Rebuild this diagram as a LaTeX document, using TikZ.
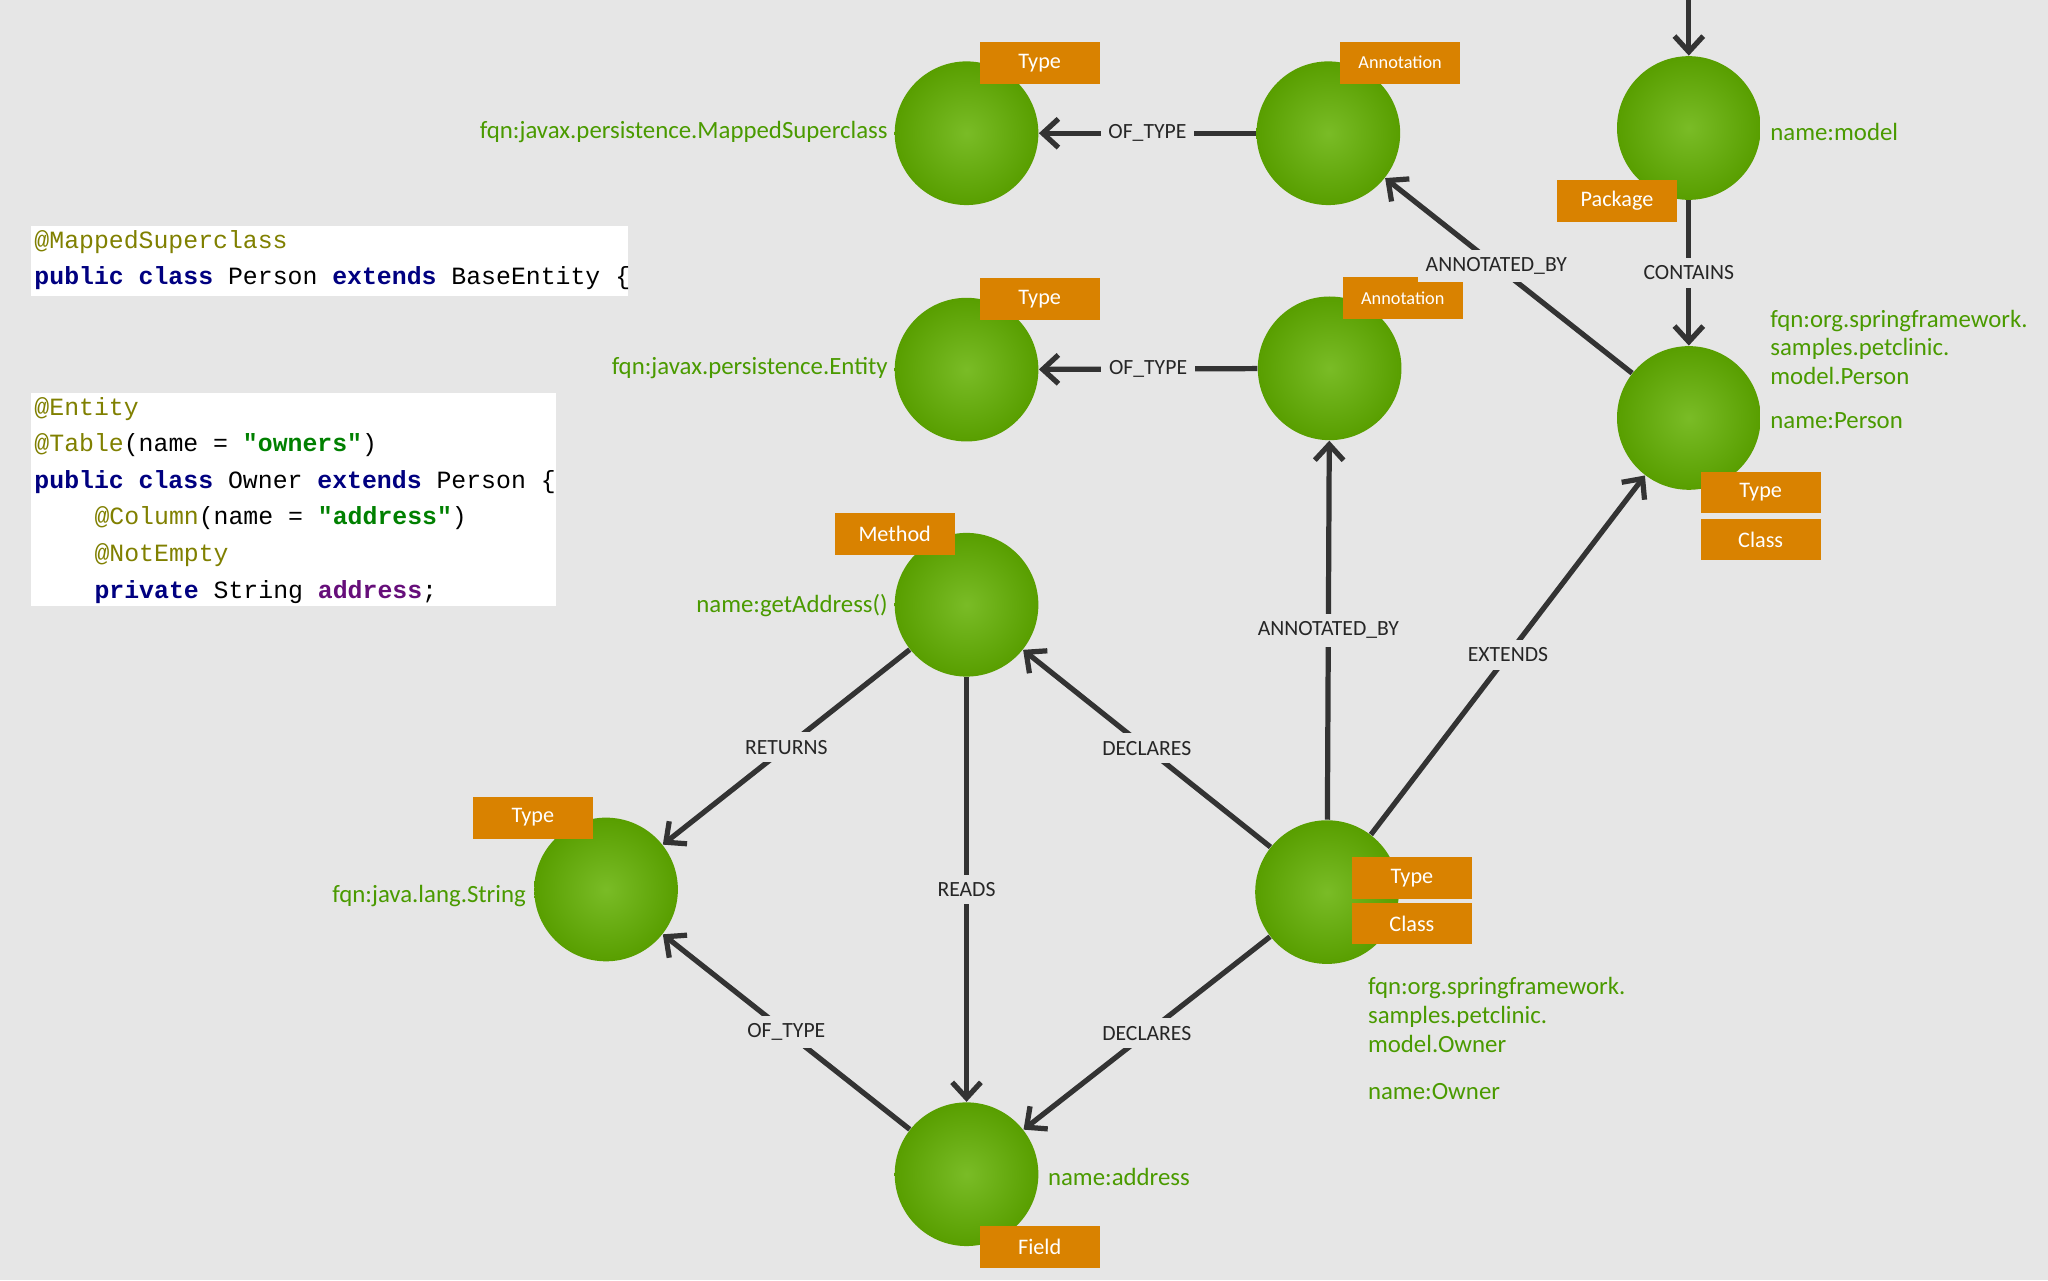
\documentclass[tikz,border=0pt]{standalone}
\usepackage{fontspec}
\setmainfont{Carlito}
\newfontfamily\codefont{Liberation Mono}
\usetikzlibrary{arrows.meta}
\definecolor{bg}{HTML}{E6E6E6}
\definecolor{lblg}{HTML}{4A9A00}
\definecolor{nodeg}{HTML}{62B000}
\definecolor{tagc}{HTML}{D98200}
\definecolor{edgec}{HTML}{333333}
\definecolor{annc}{HTML}{808000}
\definecolor{kwc}{HTML}{000080}
\definecolor{strc}{HTML}{008000}
\definecolor{fldc}{HTML}{660E7A}
\begin{document}
\begin{tikzpicture}[x=0.5pt,y=-0.5pt,
  gn/.style={circle,minimum size=55pt,inner sep=0,draw=none,inner color=nodeg!85!white,outer color=nodeg!90!black},
  tag/.style={fill=tagc,text=white,minimum width=46pt,minimum height=16pt,inner sep=0,font=\fontsize{8.5}{10}\selectfont},
  tags/.style={tag,font=\fontsize{7}{9}\selectfont},
  gl/.style={text=lblg,font=\fontsize{9.5}{11}\selectfont,inner sep=0},
  arr/.style={draw=edgec,line width=2pt,-{Straight Barb[length=6pt,width=11pt,line width=2pt]}},
  el/.style={fill=bg,text=black!85,font=\fontsize{8.3}{10}\selectfont,inner sep=3pt},
  code/.style={font=\codefont\fontsize{9.5}{14}\selectfont,anchor=west,inner sep=0}
]
\fill[bg] (0,0) rectangle (1568,980);
\useasboundingbox (0,0) rectangle (1568,980);
% code boxes
\fill[white] (24,173) rectangle (481,227);
\fill[white] (24,301) rectangle (426,464);
\node[code] (c1) at (26,185) {\textcolor{annc}{@MappedSuperclass}};
\node[code] (c2) at (26,213) {\textcolor{kwc}{\bfseries public class} Person \textcolor{kwc}{\bfseries extends} BaseEntity \{};
\node[code] (c3) at (26,313) {\textcolor{annc}{@Entity}};
\node[code] (c4) at (26,341) {\textcolor{annc}{@Table}(name = \textcolor{strc}{\bfseries"owners"})};
\node[code] (c5) at (26,369) {\textcolor{kwc}{\bfseries public class} Owner \textcolor{kwc}{\bfseries extends} Person \{};
\node[code] (c6) at (72,397) {\textcolor{annc}{@Column}(name = \textcolor{strc}{\bfseries"address"})};
\node[code] (c7) at (72,425) {\textcolor{annc}{@NotEmpty}};
\node[code] (c8) at (72,453) {\textcolor{kwc}{\bfseries private} String \textcolor{fldc}{\bfseries address};};
% nodes
\node[gn] (ms) at (740,102) {};
\node[gn] (an1) at (1017,102) {};
\node[gn] (mod) at (1293,98) {};
\node[gn] (ent) at (740,283) {};
\node[gn] (an2) at (1018,282) {};
\node[gn] (per) at (1293,320) {};
\node[gn] (get) at (740,463) {};
\node[gn] (str) at (464,681) {};
\node[gn] (own) at (1016,683) {};
\node[gn] (adr) at (740,899) {};
\coordinate (top) at (1293,0);
% tags
\node[tag] (t1) at (796,48) {Type};
\node[tags] (t2) at (1072,48) {Annotation};
\node[tag] (t3) at (1238,154) {Package};
\node[tag] (t4) at (796,229) {Type};
\node[tags] (t5) at (1074,228) {Annotation};
\node[tag] (t6) at (1348,377) {Type};
\node[tag] (t7) at (1348,413) {Class};
\node[tag] (t8) at (685,409) {Method};
\node[tag] (t9) at (408,626) {Type};
\node[tag] (t10) at (1081,672) {Type};
\node[tag] (t11) at (1081,707) {Class};
\node[tag] (t12) at (796,955) {Field};
% green labels
\node[gl,anchor=east] (l1) at (680,101) {fqn:javax.persistence.MappedSuperclass};
\node[gl,anchor=west] (l2) at (1355,101) {name:model};
\node[gl,anchor=east] (l3) at (680,282) {fqn:javax.persistence.Entity};
\node[gl,anchor=west,align=left] (l4) at (1355,266) {fqn:org.springframework.\\samples.petclinic.\\model.Person};
\node[gl,anchor=west] (l5) at (1355,322) {name:Person};
\node[gl,anchor=east] (l6) at (680,464) {name:getAddress()};
\node[gl,anchor=east] (l7) at (403,686) {fqn:java.lang.String};
\node[gl,anchor=west,align=left] (l8) at (1047,777) {fqn:org.springframework.\\samples.petclinic.\\model.Owner};
\node[gl,anchor=west] (l9) at (1047,836) {name:Owner};
\node[gl,anchor=west] (l10) at (802,901) {name:address};
% edges
\draw[arr] (an1) -- node[el]{OF\_TYPE} (ms);
\draw[arr] (an2) -- node[el]{OF\_TYPE} (ent);
\draw[arr] (top) -- (mod);
\draw[arr] (mod) -- node[el]{CONTAINS} (per);
\draw[arr] (per) -- node[el,pos=0.55]{ANNOTATED\_BY} (an1);
\draw[arr] (own) -- node[el]{ANNOTATED\_BY} (an2);
\draw[arr] (own) -- node[el,pos=0.5]{EXTENDS} (per);
\draw[arr] (own) -- node[el]{DECLARES} (get);
\draw[arr] (get) -- node[el]{RETURNS} (str);
\draw[arr] (get) -- node[el]{READS} (adr);
\draw[arr] (own) -- node[el]{DECLARES} (adr);
\draw[arr] (adr) -- node[el]{OF\_TYPE} (str);
\end{tikzpicture}
\end{document}
